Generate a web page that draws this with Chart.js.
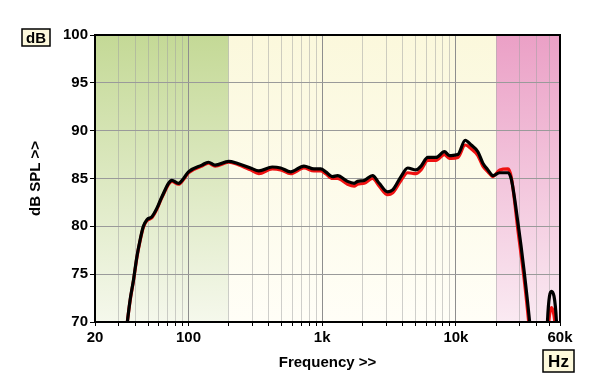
<!DOCTYPE html>
<html>
<head>
<meta charset="utf-8">
<script src="https://cdn.jsdelivr.net/npm/chart.js@4.4.1/dist/chart.umd.min.js"></script>
<style>
  html, body { margin: 0; padding: 0; background: #ffffff; }
  #chart { display: block; }
</style>
</head>
<body>
<canvas id="chart" width="600" height="389"></canvas>
<script>
// frequency (Hz) of each read point
const freq = [30, 34.9, 36.6, 38.8, 41.1, 43.5, 46.0, 48.9, 53.3, 58.1, 63.3, 75.2, 84.3, 91.9, 100, 126,
  141, 158, 200, 231, 291, 336, 423, 489, 581, 730, 868, 975, 1062, 1194, 1301, 1546, 1734, 1837, 2061,
  2381, 2669, 3085, 3364, 3882, 4357, 5024, 5484, 6157, 7097, 8200, 8937, 9210, 10330, 11730, 13010,
  14590, 15900, 17350, 18930, 21240, 24500, 25960, 29130, 32300, 35570, 40000, 46000, 48330, 51800,
  56500, 60000];

// black trace (dB SPL)
const blackDb = [62, 70, 72.3, 74.4, 76.8, 78.6, 80.0, 80.7, 81.0, 81.9, 83.1, 84.8, 84.5, 85.0, 85.7, 86.4,
  86.7, 86.4, 86.8, 86.6, 86.1, 85.8, 86.2, 86.1, 85.7, 86.3, 86.0, 86.0, 85.7, 85.2, 85.3, 84.7, 84.5, 84.7,
  84.8, 85.3, 84.5, 83.6, 83.8, 85.2, 86.1, 85.9, 86.3, 87.2, 87.2, 87.8, 87.4, 87.4, 87.5, 89.0, 88.5,
  87.8, 86.6, 85.9, 85.3, 85.6, 85.6, 84.9, 80.3, 75.4, 70, 62, 60, 70, 73.2,
  70, 60];

// red trace (dB SPL)
const redDb = [62, 70, 72.2, 74.3, 76.7, 78.5, 79.9, 80.6, 80.9, 81.8, 83.0, 84.7, 84.4, 84.9, 85.6, 86.3,
  86.6, 86.3, 86.7, 86.5, 85.9, 85.5, 86.0, 85.9, 85.5, 86.1, 85.8, 85.8, 85.5, 85.0, 85.0, 84.4, 84.2, 84.4,
  84.5, 85.0, 84.2, 83.3, 83.5, 84.8, 85.6, 85.5, 85.9, 86.9, 86.9, 87.5, 87.1, 87.1, 87.2, 88.5, 88.1,
  87.4, 86.3, 85.7, 85.2, 85.9, 86.0, 85.1, 79.5, 74.6, 69, 61, 60, 68, 71.5,
  68, 60];

// axis ticks and labels
const xTickVals = [20, 30, 40, 50, 60, 70, 80, 90, 100, 200, 300, 400, 500, 600, 700, 800, 900,
  1000, 2000, 3000, 4000, 5000, 6000, 7000, 8000, 9000, 10000, 20000, 30000, 40000, 50000, 60000];
const xLabelVals = [20, 100, 1000, 10000, 60000];
const xLabelText = ['20', '100', '1k', '10k', '60k'];
const xMajor = [100, 1000, 10000];

// shaded frequency bands
const bandEdges = [20, 200, 20000, 60000];
const bandTop = ['#c4d996', '#fbf8dc', '#eba0c6'];
const bandBottom = ['#f5f8ec', '#fffef7', '#faeaf2'];

const FONT = 'Liberation Sans, Arial, sans-serif';

const bandsPlugin = {
  id: 'bands',
  beforeDraw(chart) {
    const { ctx, chartArea: a, scales: { x } } = chart;
    ctx.save();
    for (let i = 0; i < bandEdges.length - 1; i++) {
      const x0 = x.getPixelForValue(bandEdges[i]);
      const x1 = x.getPixelForValue(bandEdges[i + 1]);
      const g = ctx.createLinearGradient(0, a.top, 0, a.bottom);
      g.addColorStop(0, bandTop[i]);
      g.addColorStop(1, bandBottom[i]);
      ctx.fillStyle = g;
      ctx.fillRect(x0, a.top, x1 - x0, a.bottom - a.top);
    }
    ctx.restore();
  },
  afterDraw(chart) {
    const { ctx, chartArea: a } = chart;
    ctx.save();
    ctx.strokeStyle = '#000';
    ctx.lineWidth = 2;
    ctx.strokeRect(a.left, a.top, a.right - a.left, a.bottom - a.top);

    // unit boxes
    const box = (txt, x, y, w, h, size) => {
      ctx.fillStyle = '#fdf9dc';
      ctx.fillRect(x, y, w, h);
      ctx.lineWidth = 1.5;
      ctx.strokeRect(x, y, w, h);
      ctx.fillStyle = '#000';
      ctx.font = 'bold ' + size + 'px ' + FONT;
      ctx.textAlign = 'center';
      ctx.textBaseline = 'middle';
      ctx.fillText(txt, x + w / 2, y + h / 2 + 1);
    };
    box('dB', 22, 29, 28, 17, 15);
    box('Hz', 543, 350, 31, 22, 17);
    ctx.restore();
  }
};

const chart = new Chart(document.getElementById('chart'), {
  type: 'line',
  data: {
    datasets: [
      {
        label: 'black',
        data: freq.map((f, i) => ({ x: f, y: blackDb[i] })),
        borderColor: '#000000',
        borderWidth: 3.2,
        pointRadius: 0,
        cubicInterpolationMode: 'monotone'
      },
      {
        label: 'red',
        data: freq.map((f, i) => ({ x: f, y: redDb[i] })),
        borderColor: '#ee1111',
        borderWidth: 3.2,
        pointRadius: 0,
        cubicInterpolationMode: 'monotone'
      }
    ]
  },
  options: {
    responsive: false,
    animation: false,
    layout: { padding: { left: 0, top: 35, right: 40, bottom: 0 } },
    plugins: { legend: { display: false }, tooltip: { enabled: false } },
    scales: {
      x: {
        type: 'logarithmic',
        min: 20,
        max: 60000,
        afterBuildTicks: (s) => { s.ticks = xTickVals.map(v => ({ value: v })); },
        afterFit: (s) => { s.height = 67; },
        ticks: {
          autoSkip: false,
          maxRotation: 0,
          padding: 3,
          color: '#000',
          font: { family: FONT, size: 15, weight: 'bold' },
          callback: (v) => {
            const k = xLabelVals.indexOf(v);
            return k >= 0 ? xLabelText[k] : '';
          }
        },
        grid: {
          color: (c) => xMajor.includes(c.tick && c.tick.value) ? '#8e8e8e' : 'rgba(160,160,160,0.5)',
          tickColor: '#000',
          tickLength: 4,
          lineWidth: 1
        },
        border: { color: '#000', width: 2 },
        title: {
          display: true,
          text: 'Frequency >>',
          color: '#000',
          font: { family: FONT, size: 15, weight: 'bold' },
          padding: { bottom: 17 }
        }
      },
      y: {
        min: 70,
        max: 100,
        afterFit: (s) => { s.width = 95; },
        ticks: {
          stepSize: 5,
          padding: 2,
          color: '#000',
          font: { family: FONT, size: 15, weight: 'bold' }
        },
        grid: { color: '#9a9a9a', tickColor: '#000', tickLength: 5, lineWidth: 1 },
        border: { color: '#000', width: 2 },
        title: {
          display: true,
          text: 'dB SPL >>',
          color: '#000',
          font: { family: FONT, size: 15, weight: 'bold' },
          padding: { top: 27 }
        }
      }
    }
  },
  plugins: [bandsPlugin]
});
</script>
</body>
</html>
